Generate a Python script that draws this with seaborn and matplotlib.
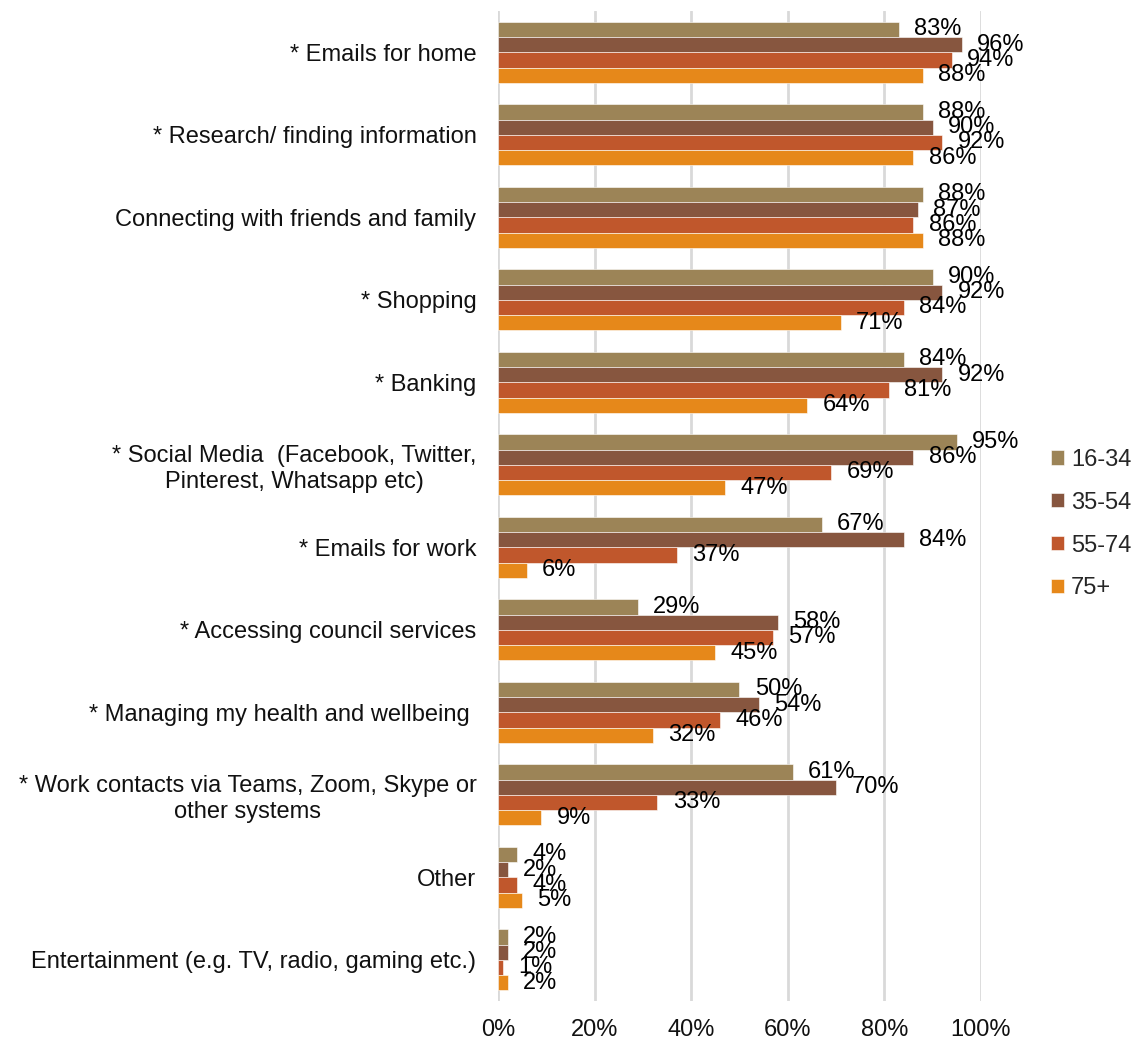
import matplotlib
matplotlib.use("Agg")
import matplotlib.pyplot as plt
import seaborn as sns
import pandas as pd

categories = [
    "* Emails for home",
    "* Research/ finding information",
    "Connecting with friends and family",
    "* Shopping",
    "* Banking",
    "* Social Media  (Facebook, Twitter,\nPinterest, Whatsapp etc)",
    "* Emails for work",
    "* Accessing council services",
    "* Managing my health and wellbeing ",
    "* Work contacts via Teams, Zoom, Skype or\nother systems",
    "Other",
    "Entertainment (e.g. TV, radio, gaming etc.)",
]
age_groups = ["16-34", "35-54", "55-74", "75+"]
v_16_34 = [83, 88, 88, 90, 84, 95, 67, 29, 50, 61, 4, 2]
v_35_54 = [96, 90, 87, 92, 92, 86, 84, 58, 54, 70, 2, 2]
v_55_74 = [94, 92, 86, 84, 81, 69, 37, 57, 46, 33, 4, 1]
v_75p = [88, 86, 88, 71, 64, 47, 6, 45, 32, 9, 5, 2]
colors = ["#9C8457", "#87563F", "#C0572C", "#E6881A"]

series = [v_16_34, v_35_54, v_55_74, v_75p]
rows = []
for g, vals in zip(age_groups, series):
    for c, v in zip(categories, vals):
        rows.append({"Category": c, "Age": g, "Value": v})
df = pd.DataFrame(rows)

sns.set_theme(style="white")
plt.rcParams['font.family'] = ['Liberation Sans', 'DejaVu Sans']

FS = 17
fig = plt.figure(figsize=(11.33, 10.42), dpi=100)
ax = fig.add_axes([0.4395, 0.0393, 0.4263, 0.9501])

sns.barplot(data=df, y="Category", x="Value", hue="Age", order=categories,
            hue_order=age_groups, palette=colors, orient="h", width=0.74,
            ax=ax, errorbar=None, saturation=1, edgecolor="white", linewidth=0.4)

for cont in ax.containers:
    ax.bar_label(cont, labels=[f"{int(round(b.get_width()))}%" for b in cont],
                 padding=11, fontsize=FS, color="black")

ax.set_xlim(0, 100)
ax.set_xticks([0, 20, 40, 60, 80, 100])
ax.set_xticklabels([f"{t}%" for t in [0, 20, 40, 60, 80, 100]], fontsize=FS, color="#111111")
ax.set_ylabel("")
ax.set_xlabel("")
ax.tick_params(axis="y", labelsize=FS, labelcolor="#111111", pad=15.5, length=0)
ax.tick_params(axis="x", pad=13, length=0)
for lab in ax.get_yticklabels():
    lab.set_multialignment("center")
for s in ax.spines.values():
    s.set_visible(False)
ax.grid(axis="x", color="#D9D9D9", linewidth=2)
ax.grid(axis="y", visible=False)
ax.set_axisbelow(True)

handles, labels = ax.get_legend_handles_labels()
ax.legend_.remove()
fig.legend(handles, labels, loc="center left", bbox_to_anchor=(0.909, 0.497),
           frameon=False, fontsize=FS, handlelength=0.55, handleheight=0.55,
           handletextpad=0.3, labelspacing=0.885)

fig.savefig("out.png", dpi=100)
